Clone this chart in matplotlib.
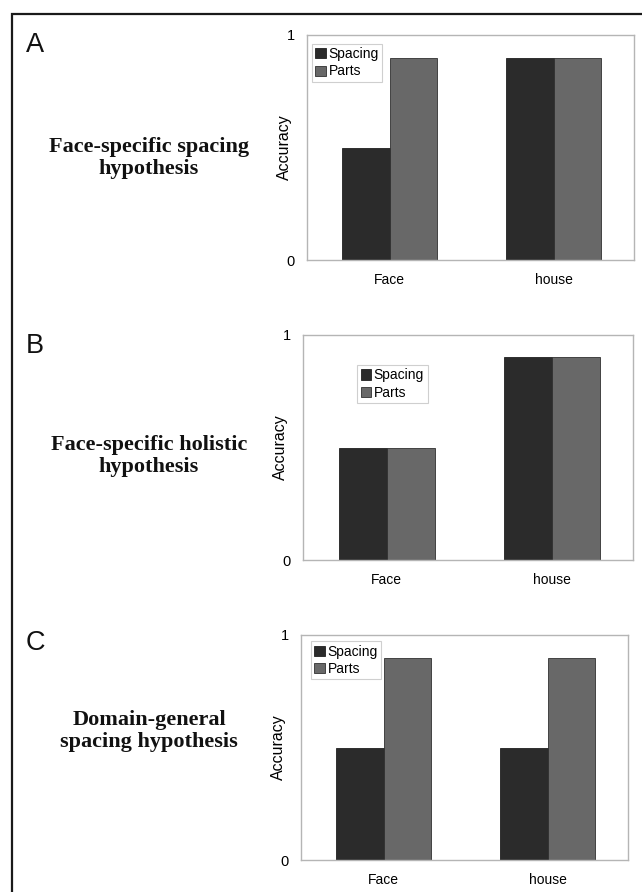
import matplotlib
matplotlib.use("Agg")
import matplotlib.pyplot as plt
import numpy as np
from matplotlib.patches import Rectangle

plt.rcParams["font.family"] = ["Liberation Sans", "DejaVu Sans"]

# ── data ────────────────────────────────────────────────────────────
categories = ["Face", "house"]
series_names = ["Spacing", "Parts"]
panel_letters = ["A", "B", "C"]
hypotheses = [
    "Face-specific spacing\nhypothesis",
    "Face-specific holistic\nhypothesis",
    "Domain-general\nspacing hypothesis",
]
spacing_vals = [[0.5, 0.9], [0.5, 0.9], [0.5, 0.5]]
parts_vals = [[0.9, 0.9], [0.5, 0.9], [0.9, 0.9]]

# ── layout (pixels on a 642x892 canvas) ────────────────────────────
W, H = 642, 892
axes_px = [(307, 634, 35, 260), (303, 633, 335, 560), (301, 628, 635, 860)]
legend_anchor = [(0.015, 0.962), (0.164, 0.867), (0.03, 0.973)]
letter_y = [45, 346, 643]
title_y = [158, 456, 731]

SPACING_COLOR = "#2b2b2b"
PARTS_COLOR = "#686868"
FRAME_COLOR = "#b5b5b5"

fig = plt.figure(figsize=(W / 100, H / 100), dpi=100)

# outer black frame, cut off at the right and bottom edges
fig.patches.append(Rectangle((12 / W, -0.05), 1.2, 1.05 - 14 / H,
                             transform=fig.transFigure, fill=False,
                             edgecolor="#1a1a1a", linewidth=1.6))

x = np.arange(len(categories))
width = 0.29

for i in range(3):
    l, r, t, b = axes_px[i]
    ax = fig.add_axes([l / W, 1 - b / H, (r - l) / W, (b - t) / H])
    ax.bar(x - width / 2, spacing_vals[i], width, color=SPACING_COLOR,
           edgecolor="#202020", linewidth=0.6, label=series_names[0])
    ax.bar(x + width / 2, parts_vals[i], width, color=PARTS_COLOR,
           edgecolor="#303030", linewidth=0.6, label=series_names[1])
    ax.set_xlim(-0.505, 1.49)
    ax.set_ylim(0, 1)
    ax.set_yticks([0, 1])
    ax.set_yticklabels(["0", "1"], fontsize=10.5)
    ax.set_xticks(x)
    ax.set_xticklabels(categories, fontsize=10)
    ax.tick_params(axis="y", length=0, pad=9)
    ax.tick_params(axis="x", length=0, pad=9)
    for sp in ax.spines.values():
        sp.set_color(FRAME_COLOR)
        sp.set_linewidth(1.0)
    ax.set_ylabel("Accuracy", fontsize=11.5)
    ax.yaxis.set_label_coords(-0.046, 0.5)

    leg = ax.legend(loc="upper left", bbox_to_anchor=legend_anchor[i],
                    borderaxespad=0, fontsize=10, fancybox=False,
                    handlelength=0.75, handleheight=0.75, handletextpad=0.2,
                    labelspacing=0.25, borderpad=0.25, framealpha=1)
    leg.get_frame().set_edgecolor("#cfcfcf")
    leg.get_frame().set_linewidth(0.8)

    fig.text(26 / W, 1 - letter_y[i] / H, panel_letters[i], fontsize=19.5,
             ha="left", va="center", color="#111111")
    fig.text(149 / W, 1 - title_y[i] / H, hypotheses[i], fontsize=16,
             fontweight="bold", family=["Liberation Serif", "DejaVu Serif"],
             ha="center", va="center", linespacing=1.15, color="#111111")

plt.savefig("out.png", dpi=100)
plt.close()
